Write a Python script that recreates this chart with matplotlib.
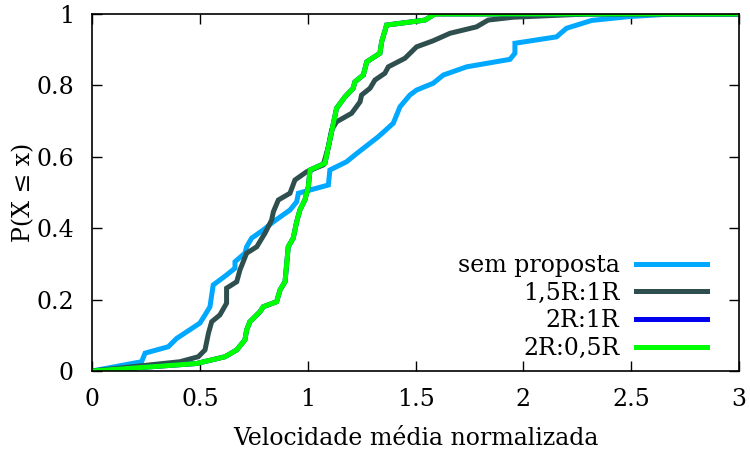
import matplotlib
matplotlib.use("Agg")
import matplotlib.pyplot as plt

# sem proposta
x_sem = [0.0, 0.23, 0.246, 0.354, 0.392, 0.50, 0.524, 0.547, 0.562, 0.624, 0.663, 0.663, 0.709, 0.717,
         0.74, 0.794, 0.841, 0.918, 0.949, 0.957, 1.096, 1.103, 1.18, 1.227, 1.327, 1.397, 1.428,
         1.474, 1.505, 1.582, 1.629, 1.737, 1.938, 1.961, 1.961, 2.154, 2.2, 2.317, 2.494, 2.69, 3.0]
y_sem = [0.0, 0.026, 0.05, 0.068, 0.091, 0.134, 0.157, 0.18, 0.241, 0.269, 0.288, 0.306, 0.33, 0.348,
         0.372, 0.395, 0.418, 0.451, 0.474, 0.498, 0.521, 0.563, 0.586, 0.609, 0.656, 0.694, 0.74,
         0.773, 0.787, 0.806, 0.829, 0.852, 0.873, 0.89, 0.918, 0.936, 0.96, 0.982, 0.993, 1.0, 1.0]

# 1,5R:1R
x_15 = [0.0, 0.408, 0.493, 0.524, 0.54, 0.555, 0.593, 0.624, 0.624, 0.671, 0.686, 0.717, 0.764, 0.802,
        0.833, 0.841, 0.864, 0.918, 0.941, 0.995, 1.072, 1.096, 1.111, 1.134, 1.204, 1.243, 1.25,
        1.289, 1.312, 1.358, 1.374, 1.451, 1.505, 1.582, 1.66, 1.783, 1.837, 1.953, 2.18, 2.3, 3.0]
y_15 = [0.0, 0.026, 0.04, 0.059, 0.106, 0.138, 0.157, 0.19, 0.232, 0.25, 0.283, 0.33, 0.348, 0.386,
        0.423, 0.446, 0.479, 0.498, 0.535, 0.558, 0.577, 0.628, 0.675, 0.698, 0.722, 0.754, 0.773,
        0.792, 0.815, 0.834, 0.852, 0.876, 0.908, 0.925, 0.946, 0.964, 0.983, 0.991, 0.997, 1.0, 1.0]

# 2R:0,5R
x_05 = [0.0, 0.485, 0.617, 0.671, 0.709, 0.717, 0.732, 0.779, 0.794, 0.856, 0.872, 0.895, 0.903, 0.91,
        0.933, 0.949, 0.964, 0.987, 1.003, 1.011, 1.08, 1.096, 1.111, 1.134, 1.173, 1.211, 1.219,
        1.258, 1.274, 1.335, 1.343, 1.366, 1.544, 1.59, 3.0]
y_05 = [0.0, 0.021, 0.04, 0.059, 0.087, 0.115, 0.138, 0.166, 0.18, 0.194, 0.227, 0.25, 0.302, 0.348,
        0.372, 0.418, 0.451, 0.479, 0.516, 0.563, 0.582, 0.628, 0.67, 0.736, 0.768, 0.792, 0.81,
        0.829, 0.866, 0.89, 0.922, 0.969, 0.983, 1.0, 1.0]

# 2R:1R (hidden under 2R:0,5R)
x_21 = list(x_05)
y_21 = list(y_05)

labels = ["sem proposta", "1,5R:1R", "2R:1R", "2R:0,5R"]
colors = ["#00A8FF", "#2F4F4F", "#0000EE", "#00FF00"]
xticks = [0, 0.5, 1, 1.5, 2, 2.5, 3]
xticklabels = ["0", "0.5", "1", "1.5", "2", "2.5", "3"]
yticks = [0, 0.2, 0.4, 0.6, 0.8, 1]
yticklabels = ["0", "0.2", "0.4", "0.6", "0.8", "1"]

plt.rcParams["font.family"] = "DejaVu Serif"
FS = 17

fig = plt.figure(figsize=(7.5, 4.57), dpi=100)
ax = fig.add_axes([92/750, 1-371/457, (739-92)/750, (371-14)/457])

series = [(x_sem, y_sem), (x_15, y_15), (x_21, y_21), (x_05, y_05)]
for (xs, ys), lab, c in zip(series, labels, colors):
    ax.plot(xs, ys, color=c, lw=3.6, label=lab, solid_joinstyle="miter")

ax.set_xlim(0, 3)
ax.set_ylim(0, 1)
ax.set_xticks(xticks)
ax.set_xticklabels(xticklabels)
ax.set_yticks(yticks)
ax.set_yticklabels(yticklabels)
ax.tick_params(direction="in", length=7, width=1, top=True, right=True, labelsize=FS)
ax.tick_params(axis="x", pad=12)
ax.tick_params(axis="y", pad=13)
for s in ax.spines.values():
    s.set_linewidth(1.2)
ax.set_xlabel("Velocidade média normalizada", fontsize=FS, labelpad=12)
ax.set_ylabel("P(X ≤ x)", fontsize=FS, labelpad=1)

leg = ax.legend(loc="lower right", bbox_to_anchor=(707/750, 1-360/457),
                bbox_transform=fig.transFigure, frameon=False, fontsize=FS,
                markerfirst=False, handlelength=3.0, handletextpad=0.7, labelspacing=0.2,
                borderaxespad=0.0, borderpad=0.0)
for t in leg.get_texts():
    t.set_ha("right")
leg._legend_box.align = "right"

fig.savefig("out.png", dpi=100)
